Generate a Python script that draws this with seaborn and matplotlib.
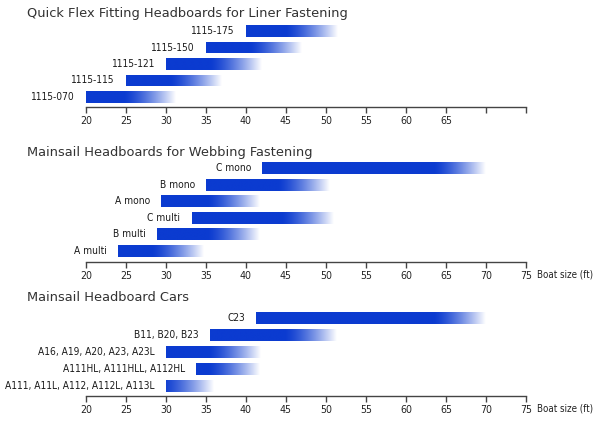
import numpy as np
import pandas as pd
import matplotlib
matplotlib.use("Agg")
import matplotlib.pyplot as plt
import seaborn as sns
from matplotlib import colors as mcolors
from matplotlib import font_manager as fm

# ---- data ----
titles = ["Quick Flex Fitting Headboards for Liner Fastening",
          "Mainsail Headboards for Webbing Fastening",
          "Mainsail Headboard Cars"]

labels1 = ["1115-175", "1115-150", "1115-121", "1115-115", "1115-070"]
starts1 = [40, 35, 30, 25, 20]
ends1 = [51.4, 47, 42, 37, 31.2]

labels2 = ["C mono", "B mono", "A mono", "C multi", "B multi", "A multi"]
starts2 = [42, 35, 29.4, 33.2, 28.9, 24]
ends2 = [70, 50.5, 41.7, 50.9, 41.7, 34.7]

labels3 = ["C23", "B11, B20, B23", "A16, A19, A20, A23, A23L",
           "A111HL, A111HLL, A112HL", "A111, A11L, A112, A112L, A113L"]
starts3 = [41.3, 35.5, 30, 33.8, 30]
ends3 = [70, 51.3, 41.8, 41.8, 35.9]

ticks = [20, 25, 30, 35, 40, 45, 50, 55, 60, 65, 70, 75]
tick_labels1 = ["20", "25", "30", "35", "40", "45", "50", "55", "60", "65", "", ""]
tick_labels23 = [str(t) for t in ticks]
axis_label = "Boat size (ft)"

# ---- style ----
sns.set_style("white")
plt.rcParams["font.family"] = ["DejaVu Sans"]

# find a condensed font if one is installed
cands = []
for f in fm.fontManager.ttflist:
    nm = (f.name + " " + str(f.stretch) + " " + f.fname).lower()
    if f.style != "normal":
        continue
    low = f.fname.lower()
    if "bold" in low or "light" in low or "black" in low or "mono" in nm:
        continue
    if "narrow" in nm or "condensed" in nm:
        score = 0 if "liberation" in nm else (1 if "dejavu" in nm else 2)
        cands.append((score, f.fname))
cands.sort()
if cands:
    cond_fp = fm.FontProperties(fname=cands[0][1])
    lab_size, tick_size, ax_lab_size = 7.3, 7.6, 7.0
else:
    cond_fp = fm.FontProperties(family=["Roboto", "DejaVu Sans"])
    lab_size, tick_size, ax_lab_size = 6.8, 7.2, 6.5

BLUE = np.array(mcolors.to_rgb("#0b3bd0"))
WHITE = np.array([1.0, 1.0, 1.0])
FADE = 6.5  # units of fade at right end

W, H = 600, 423
fig = plt.figure(figsize=(6, 4.23), dpi=100)

def px_axes(top, bottom):
    left = 86 / W
    width = 440 / W
    return [left, 1 - bottom / H, width, (bottom - top) / H]

panels = [
    (labels1, starts1, ends1, tick_labels1, (21, 107), 13, False),
    (labels2, starts2, ends2, tick_labels23, (157, 262), 152, True),
    (labels3, starts3, ends3, tick_labels23, (308, 396), 297, True),
]

for i, (labs, st, en, tlabs, (top, bot), ty, show_axis_label) in enumerate(panels):
    ax = fig.add_axes(px_axes(top, bot))
    df = pd.DataFrame({"label": labs, "start": st, "end": en})
    sns.barplot(data=df, x="end", y="label", orient="h", ax=ax,
                color="#0b3bd0", width=0.72, saturation=1, order=labs)
    for patch, s, e, lab in zip(ax.patches, st, en, labs):
        patch.set_x(s)
        patch.set_width(e - s)
        patch.set_facecolor("none")
        patch.set_edgecolor("none")
        y0 = patch.get_y()
        h = patch.get_height()
        xs = np.linspace(s, e, 300)
        f = np.clip((xs - (e - FADE)) / FADE, 0, 1)
        f = f ** 1.4
        rgb = BLUE[None, :] * (1 - f[:, None]) + WHITE[None, :] * f[:, None]
        img = rgb[None, :, :]
        im = ax.imshow(img, extent=[s, e, y0 + h, y0], aspect="auto",
                       interpolation="bilinear", zorder=3)
        im.set_clip_path(patch)
        ax.annotate(lab, xy=(s, y0 + h / 2), xytext=(-8.0, 0),
                    textcoords="offset points", ha="right", va="center",
                    fontproperties=cond_fp, fontsize=lab_size, color="#1a1a1a")
    n = len(labs)
    m = 0.62 if i != 1 else 0.66
    ax.set_xlim(20, 75)
    ax.set_ylim(n - 1 + m, -m)
    ax.set_xticks(ticks)
    ax.set_xticklabels(tlabs, color="#222222")
    for t in ax.get_xticklabels():
        t.set_fontproperties(cond_fp)
        t.set_fontsize(tick_size)
    ax.set_yticks([])
    ax.set_xlabel("")
    ax.set_ylabel("")
    for sp in ["top", "right", "left"]:
        ax.spines[sp].set_visible(False)
    ax.spines["bottom"].set_color("#444444")
    ax.spines["bottom"].set_linewidth(1.0)
    ax.tick_params(axis="x", direction="out", length=4, width=1,
                   color="#444444", pad=2.5, bottom=True)
    ax.set_facecolor("none")
    if show_axis_label:
        ax.annotate(axis_label, xy=(1, 0), xycoords="axes fraction",
                    xytext=(8.0, -8.8), textcoords="offset points",
                    ha="left", va="center", fontproperties=cond_fp,
                    fontsize=ax_lab_size, color="#222222")
    fig.text(27 / W, 1 - ty / H, titles[i], ha="left", va="center",
             fontsize=9.4, color="#333333", family=["DejaVu Sans"])

fig.savefig("out.png", dpi=100, facecolor="white")
